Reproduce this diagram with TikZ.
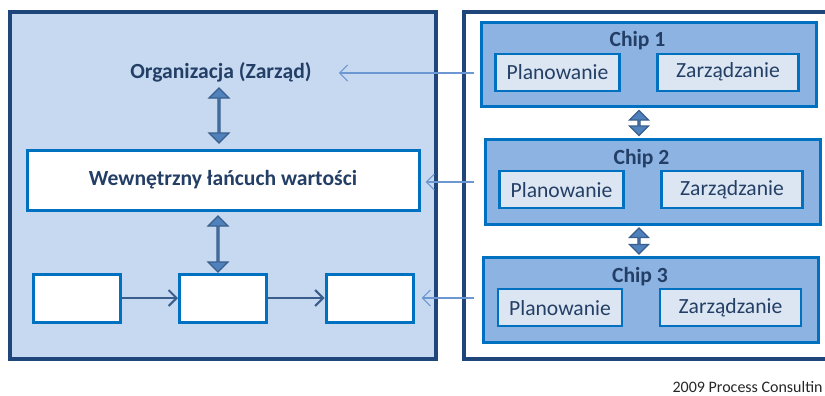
\documentclass[tikz,border=0pt]{standalone}
\usepackage{fontspec}
\setmainfont{Carlito}
\usetikzlibrary{arrows.meta,shapes.arrows,calc}

\definecolor{navy}{HTML}{1F467A}
\definecolor{paleblue}{HTML}{C6D9F0}
\definecolor{midblue}{HTML}{0070C0}
\definecolor{chipblue}{HTML}{8DB3E2}
\definecolor{taskblue}{HTML}{DCE6F2}
\definecolor{arrowfill}{HTML}{4F81BD}
\definecolor{arrowline}{HTML}{3A5E8C}
\definecolor{textblue}{HTML}{243F66}
\definecolor{linkblue}{HTML}{6D97D2}

\tikzset{
	frame/.style={draw=navy, line width=1.8pt, minimum width=213pt, minimum height=173.5pt, inner sep=0pt},
	whitebox/.style={draw=midblue, fill=white, line width=1.5pt, inner sep=0pt},
	chip/.style={draw=midblue, fill=chipblue, line width=1.5pt, minimum width=167.5pt, minimum height=42.3pt, inner sep=0pt},
	task/.style={draw=midblue, fill=taskblue, line width=1.2pt, minimum height=18.5pt, inner sep=0pt,
		font=\fontsize{10.8}{12}\selectfont, text=textblue},
	heading/.style={font=\fontsize{10.8}{12}\selectfont\bfseries, text=textblue},
	blockarrow/.style={shape=double arrow, rotate=90, fill=arrowfill, draw=arrowline, line width=0.6pt,
		minimum width=10pt, double arrow head extend=2.75pt, inner sep=0pt},
	flow/.style={draw=arrowline, line width=1pt, -{Straight Barb[length=4pt,width=8pt]}},
	link/.style={draw=linkblue, line width=0.6pt, -{Straight Barb[length=4pt,width=8pt]}}
}

\begin{document}
\begin{tikzpicture}[x=0.5pt, y=-0.5pt]
	\useasboundingbox (0,0) rectangle (825,396);
	\clip (0,0) rectangle (825,396);

	% Left panel: the organisation
	\node[frame, fill=paleblue] (org box) at (223,185.5) {};
	\node[heading] (org) at (221,72) {Organizacja (Zarząd)};
	\node[whitebox, minimum width=196pt, minimum height=30pt, heading] (chain) at (223,180) {Wewnętrzny łańcuch wartości};

	% Three steps of the chain
	\foreach \i/\x in {1/76.5, 2/223, 3/369.5} {
		\node[whitebox, minimum width=43.5pt, minimum height=24pt] (step\i) at (\x,298) {};
	}
	\draw[flow] (step1) -- (step2);
	\draw[flow] (step2) -- (step3);

	% Block arrows between levels
	\node[blockarrow, minimum height=27.5pt] (up1) at (219,115.5) {};
	\node[blockarrow, minimum height=28pt] (up2) at (218,244) {};

	% Right panel: the chips
	\node[frame, fill=white, minimum width=188pt] (chips) at (652,185.5) {};
	\foreach \n/\cx/\cy in {1/648.5/64.5, 2/652.5/182, 3/651/300} {
		\node[chip] (chip\n) at (\cx,\cy) {};
		\node[heading] (title\n) at ($(chip\n.north west)+(158,20)$) {Chip \n};
		\node[task, minimum width=62pt] (plan\n) at ($(chip\n.north west)+(78,51.5)$) {Planowanie};
		\node[task, minimum width=70.5pt] (zarz\n) at ($(chip\n.north west)+(248.5,51.5)$) {Zarządzanie};
	}
	\node[blockarrow, minimum height=12.5pt, minimum width=9.5pt, double arrow head extend=2.5pt] (link12) at (639,123) {};
	\node[blockarrow, minimum height=13pt, minimum width=9.5pt, double arrow head extend=2.5pt] (link23) at (639,241) {};

	% Feedback lines from the chips
	\coordinate (from1) at (474,73);
	\coordinate (from2) at (474,182);
	\coordinate (from3) at (474,298);
	\draw[link, shorten >=10pt] (from1) -- (from1 -| org.east);
	\draw[link, shorten >=2.5pt] (from2) -- (from2 -| chain.east);
	\draw[link, shorten >=3.5pt] (from3) -- (from3 -| step3.east);

	\node[anchor=east, inner sep=0pt, font=\fontsize{8}{10}\selectfont, text=black!85] (copy) at (823,387) {2009 Process Consultin};
\end{tikzpicture}
\end{document}
